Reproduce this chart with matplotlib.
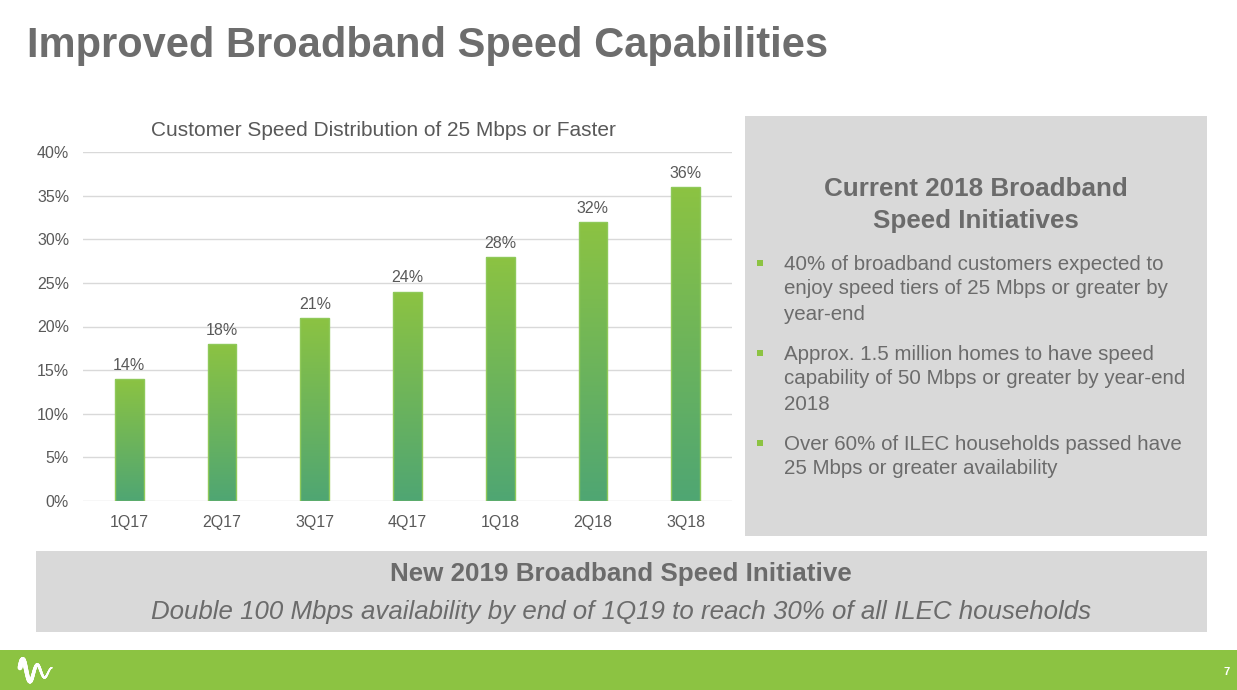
import matplotlib
matplotlib.use("Agg")
import matplotlib.pyplot as plt
import numpy as np
from matplotlib.patches import Rectangle
from matplotlib.colors import LinearSegmentedColormap

# ---- data ----
quarters = ["1Q17", "2Q17", "3Q17", "4Q17", "1Q18", "2Q18", "3Q18"]
share_pct = [14, 18, 21, 24, 28, 32, 36]
y_ticks = [0, 5, 10, 15, 20, 25, 30, 35, 40]

title = "Improved Broadband Speed Capabilities"
chart_title = "Customer Speed Distribution of 25 Mbps or Faster"
panel_heading = ["Current 2018 Broadband", "Speed Initiatives"]
bullets = [
    ["40% of broadband customers expected to",
     "enjoy speed tiers of 25 Mbps or greater by",
     "year-end"],
    ["Approx. 1.5 million homes to have speed",
     "capability of 50 Mbps or greater by year-end",
     "2018"],
    ["Over 60% of ILEC households passed have",
     "25 Mbps or greater availability"],
]
bottom_heading = "New 2019 Broadband Speed Initiative"
bottom_text = "Double 100 Mbps availability by end of 1Q19 to reach 30% of all ILEC households"
page_no = "7"

W, H = 1237, 690
TXT = "#6b6b6b"
AX_TXT = "#595959"
GREEN = "#8cc342"
PANEL = "#d9d9d9"

plt.rcParams['font.family'] = ['Liberation Sans', 'DejaVu Sans']

fig = plt.figure(figsize=(W / 100, H / 100), dpi=100)
fig.patch.set_facecolor("white")


def px(x, y):
    return x / W, 1 - y / H


def frect(x0, y0, x1, y1, color):
    fx0, fy1 = px(x0, y0)
    fx1, fy0 = px(x1, y1)
    fig.patches.append(Rectangle((fx0, fy0), fx1 - fx0, fy1 - fy0,
                                 transform=fig.transFigure, color=color,
                                 zorder=0, linewidth=0))


# title
fig.text(*px(27, 46), title, fontsize=30, fontweight='bold', color="#6d6d6d",
         ha='left', va='center')

# chart
l, r = 83, 732
b, t = 501, 152
ax = fig.add_axes([l / W, 1 - b / H, (r - l) / W, (b - t) / H])
x = np.arange(len(quarters))
bars = ax.bar(x, share_pct, width=0.31, color='none',
              edgecolor="#8fc95a", linewidth=1.0, zorder=3)
cmap = LinearSegmentedColormap.from_list("g", ["#4fa673", "#8cc342"])
grad = np.linspace(0, 1, 256).reshape(-1, 1)
for bar in bars:
    x0 = bar.get_x()
    w = bar.get_width()
    h = bar.get_height()
    im = ax.imshow(grad, cmap=cmap, aspect='auto', origin='lower',
                   extent=[x0, x0 + w, 0, h], zorder=2)
    im.set_clip_path(bar)
for xi, v in zip(x, share_pct):
    ax.text(xi, v + 0.7, f"{v}%", ha='center', va='bottom',
            fontsize=11.5, color=AX_TXT)

ax.set_xlim(-0.5, len(quarters) - 0.5)
ax.set_ylim(0, 40)
ax.set_yticks(y_ticks)
ax.set_yticklabels([f"{v}%" for v in y_ticks])
ax.set_xticks(x)
ax.set_xticklabels(quarters)
ax.tick_params(axis='both', length=0, labelsize=11.5, labelcolor=AX_TXT)
ax.tick_params(axis='y', pad=10)
ax.tick_params(axis='x', pad=10)
ax.grid(axis='y', color="#d9d9d9", linewidth=1.0, zorder=0)
ax.set_axisbelow(True)
for s in ax.spines.values():
    s.set_visible(False)
ax.set_facecolor('none')
fig.text(*px(383, 130), chart_title, fontsize=15, color=AX_TXT,
         ha='center', va='center')

# right panel
frect(745, 116, 1207, 536, PANEL)
fig.text(*px(976, 189), panel_heading[0], fontsize=18.7, fontweight='bold',
         color=TXT, ha='center', va='center')
fig.text(*px(976, 221), panel_heading[1], fontsize=18.7, fontweight='bold',
         color=TXT, ha='center', va='center')
y0s = [264, 354, 444]
for y0, lines in zip(y0s, bullets):
    frect(757, y0 - 4, 763, y0 + 2, "#8cc342")
    for i, line in enumerate(lines):
        fig.text(*px(784, y0 + 25 * i), line, fontsize=14.8, color=TXT,
                 ha='left', va='center')

# bottom panel
frect(36, 551, 1207, 632, PANEL)
fig.text(*px(621, 574), bottom_heading, fontsize=18.7, fontweight='bold',
         color=TXT, ha='center', va='center')
fig.text(*px(621, 612), bottom_text, fontsize=18.6, style='italic',
         color=TXT, ha='center', va='center')

# footer
frect(0, 650, W, H, GREEN)
fig.text(*px(1227, 672), page_no, fontsize=8, fontweight='bold',
         color='white', ha='center', va='center')
# logo wave (decoration)
tt = np.linspace(0, 1, 200)
lx = 20 + 32 * tt
ly = 672 - 14 * np.exp(-1.2 * tt) * np.sin(2 * np.pi * 2.2 * tt + 0.3)
lw_ = 3.5 - 2.5 * tt
for i in range(len(tt) - 1):
    xa, ya = px(lx[i], ly[i])
    xb, yb = px(lx[i + 1], ly[i + 1])
    fig.add_artist(plt.Line2D([xa, xb], [ya, yb], color='white',
                              linewidth=lw_[i], transform=fig.transFigure,
                              solid_capstyle='round'))

fig.savefig("out.png", dpi=100, facecolor=fig.get_facecolor())
